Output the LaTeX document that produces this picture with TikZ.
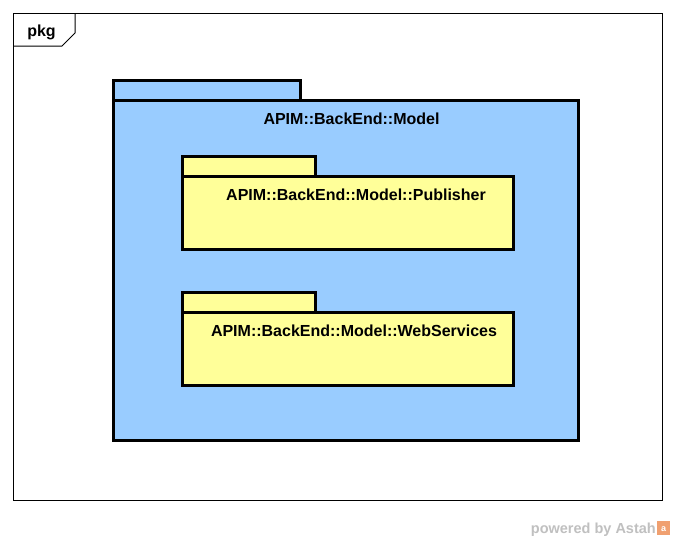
\documentclass[tikz,border=0pt]{standalone}
\usepackage{fontspec}
\setmainfont{Liberation Sans}
\definecolor{pkgblue}{HTML}{99CCFF}
\definecolor{pkgyellow}{HTML}{FFFF99}
\definecolor{wmgray}{HTML}{C0C0C0}
\definecolor{astahorange}{HTML}{F0A070}
\begin{document}
\begin{tikzpicture}[x=1pt,y=-1pt,
  pkgline/.style={draw=black,line width=3pt,line join=miter},
  lbl/.style={font=\fontsize{16}{18}\selectfont\bfseries,inner sep=0pt,anchor=base}]
\useasboundingbox (0,0) rectangle (676,541);
\fill[white] (0,0) rectangle (676,541);
% frame
\draw[line width=1pt] (13,13) rectangle (662,500);
\draw[line width=1pt] (13,46) -- (62,46) -- (75,33) -- (75,13);
\node[lbl] (pkglbl) at (41.5,36) {pkg};
% outer package
\path[pkgline,fill=pkgblue] (113,80) rectangle (300,100);
\path[pkgline,fill=pkgblue] (113,100) rectangle (578,440);
\node[lbl] (outerlbl) at (351.5,124) {APIM::BackEnd::Model};
% publisher
\path[pkgline,fill=pkgyellow] (182,156) rectangle (315,176);
\path[pkgline,fill=pkgyellow] (182,176) rectangle (513,249);
\node[lbl] (publbl) at (356,200) {APIM::BackEnd::Model::Publisher};
% webservices
\path[pkgline,fill=pkgyellow] (182,292) rectangle (315,312);
\path[pkgline,fill=pkgyellow] (182,312) rectangle (513,385);
\node[lbl] (wslbl) at (354,336) {APIM::BackEnd::Model::WebServices};
% watermark
\node[font=\fontsize{14.5}{16}\selectfont\bfseries,text=wmgray,inner sep=0pt,anchor=base east] (wm) at (656,533) {powered by Astah};
\fill[astahorange] (657,521) rectangle (670,535);
\node[font=\fontsize{9}{9}\selectfont\bfseries,text=white,inner sep=0pt] (wmlogo) at (663.5,529) {a};
\end{tikzpicture}
\end{document}
